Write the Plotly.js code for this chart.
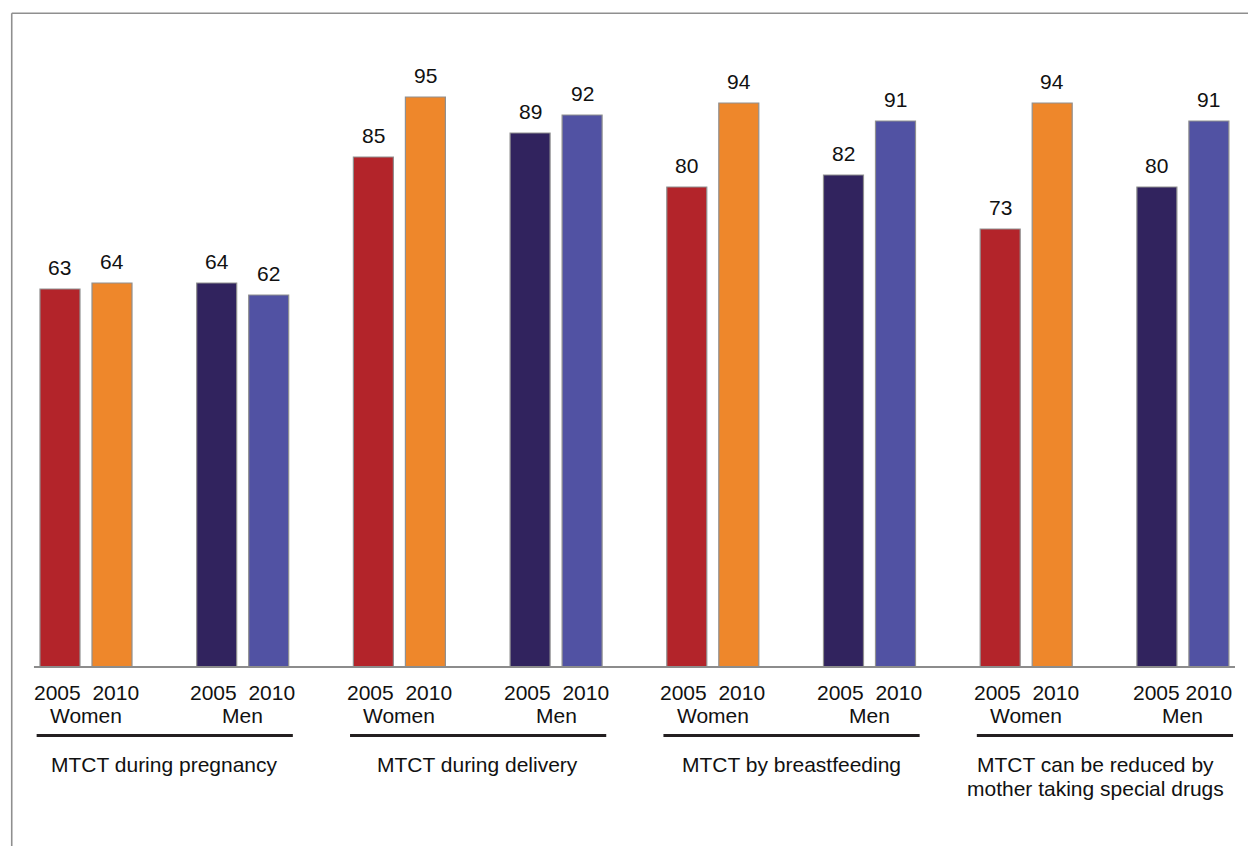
<!DOCTYPE html>
<html>
<head>
<meta charset="utf-8">
<script src="https://cdn.plot.ly/plotly-3.0.1.min.js"></script>
<style>
  html, body { margin: 0; padding: 0; background: #ffffff; }
  #chart { width: 1248px; height: 846px; }
</style>
</head>
<body>
<div id="chart"></div>
<script>
// ---------------- data ----------------
var categories = ["MTCT during pregnancy", "MTCT during delivery", "MTCT by breastfeeding", "MTCT can be reduced by<br>mother taking special drugs"];
var groups = ["Women", "Men"];
var years = ["2005", "2010"];
var women2005 = [63, 85, 80, 73];
var women2010 = [64, 95, 94, 94];
var men2005 = [64, 89, 82, 80];
var men2010 = [62, 92, 91, 91];

// ---------------- styles ----------------
var FONT = "Liberation Sans, Arial, Helvetica, sans-serif";
var TXT = "#111111";
var colors = {
  women2005: "#B3242A",
  women2010: "#EE872B",
  men2005: "#31235E",
  men2010: "#5152A3"
};
var BAR_W = 0.2553;          // bar width in slot units
var OFF_A = -0.2936;         // offset of first bar in a pair
var OFF_B = 0.0383;          // offset of second bar in a pair

// slot index of each (category, group) pair
function slots(g) { return categories.map(function (c, i) { return 2 * i + g; }); }
var womenSlots = slots(0);
var menSlots = slots(1);

function barTrace(name, x, y, color, offset) {
  return {
    type: "bar", name: name, x: x, y: y,
    width: x.map(function () { return BAR_W; }),
    offset: x.map(function () { return offset; }),
    marker: { color: color, line: { color: "#909090", width: 1.2 } },
    hoverinfo: "y+name",
    showlegend: false
  };
}

var traces = [
  barTrace("Women " + years[0], womenSlots, women2005, colors.women2005, OFF_A),
  barTrace("Women " + years[1], womenSlots, women2010, colors.women2010, OFF_B),
  barTrace("Men " + years[0], menSlots, men2005, colors.men2005, OFF_A),
  barTrace("Men " + years[1], menSlots, men2010, colors.men2010, OFF_B)
];

// ---------------- annotations ----------------
var annotations = [];
function valueLabels(xs, ys, centerShift) {
  xs.forEach(function (x, i) {
    annotations.push({
      x: x + centerShift, y: ys[i], xref: "x", yref: "y",
      text: String(ys[i]), showarrow: false,
      xanchor: "center", yanchor: "middle", yshift: 22,
      font: { family: FONT, size: 21, color: TXT }
    });
  });
}
var cA = OFF_A + BAR_W / 2, cB = OFF_B + BAR_W / 2;
valueLabels(womenSlots, women2005, cA);
valueLabels(womenSlots, women2010, cB);
valueLabels(menSlots, men2005, cA);
valueLabels(menSlots, men2010, cB);

var nSlots = categories.length * groups.length;
for (var s = 0; s < nSlots; s++) {
  var sep = (s === nSlots - 1) ? " " : "\u00a0\u00a0";
  annotations.push({
    x: s, y: -0.0433, xref: "x", yref: "paper",
    text: years[0] + sep + years[1], showarrow: false,
    xanchor: "center", yanchor: "middle",
    font: { family: FONT, size: 21, color: TXT }
  });
  annotations.push({
    x: s, y: -0.0808, xref: "x", yref: "paper",
    text: groups[s % 2], showarrow: false,
    xanchor: "center", yanchor: "middle",
    font: { family: FONT, size: 21, color: TXT }
  });
}

var shapes = [];
categories.forEach(function (c, i) {
  var lines = c.split("<br>");
  lines.forEach(function (ln, k) {
    annotations.push({
      x: 2 * i + 0.5, y: -0.1633 - k * 0.0384, xref: "x", yref: "paper",
      text: ln, showarrow: false,
      xanchor: "center", yanchor: "middle",
      xshift: (i === categories.length - 1) ? -9 : 0,
      font: { family: FONT, size: 21, color: TXT }
    });
  });
  shapes.push({
    type: "line", xref: "x", yref: "paper",
    x0: 2 * i - 0.315, x1: 2 * i + 1 + 0.32,
    y0: -0.1143, y1: -0.1143,
    line: { color: "#231f20", width: 3 }
  });
});

// baseline
shapes.push({
  type: "line", xref: "x", yref: "paper",
  x0: -0.332, x1: nSlots - 1 + 0.3325,
  y0: 0, y1: 0,
  line: { color: "#8c8c8c", width: 2 }
});
// outer frame (top and left edges)
shapes.push({
  type: "line", xref: "paper", yref: "paper",
  x0: 0.0094, x1: 1.2, y0: 1.0895, y1: 1.0895,
  line: { color: "#8f8f8f", width: 1.6 }
});
shapes.push({
  type: "line", xref: "paper", yref: "paper",
  x0: 0.0094, x1: 0.0094, y0: 1.0895, y1: -0.4,
  line: { color: "#8f8f8f", width: 1.6 }
});

var layout = {
  width: 1248, height: 846,
  margin: { l: 0, r: 0, t: 67, b: 179, pad: 0 },
  paper_bgcolor: "#ffffff", plot_bgcolor: "rgba(0,0,0,0)",
  barmode: "overlay",
  showlegend: false,
  font: { family: FONT, size: 21, color: TXT },
  xaxis: {
    range: [-0.5488, 7.4155], showgrid: false, zeroline: false,
    showline: false, showticklabels: false, ticks: "", fixedrange: true
  },
  yaxis: {
    range: [0, 100], showgrid: false, zeroline: false,
    showline: false, showticklabels: false, ticks: "", fixedrange: true
  },
  annotations: annotations,
  shapes: shapes
};

Plotly.newPlot("chart", traces, layout, { staticPlot: true, displayModeBar: false });
</script>
</body>
</html>
